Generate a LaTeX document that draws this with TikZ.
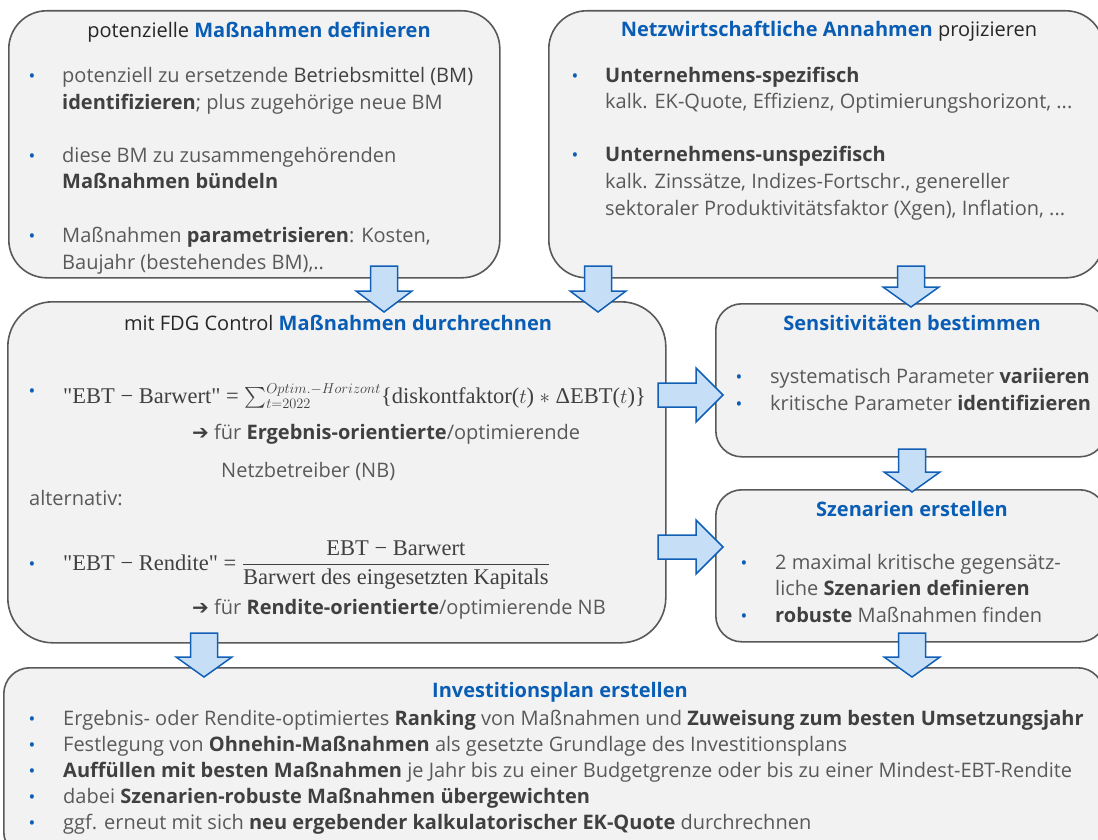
\documentclass[tikz,border=0pt]{standalone}
\usepackage[no-math]{fontspec}
\usepackage{amsmath}
\setmainfont{Open Sans}
\newfontfamily\serif{Liberation Serif}
\newfontfamily\symf{DejaVu Sans}
\definecolor{boxfill}{HTML}{F2F2F2}
\definecolor{boxline}{HTML}{595959}
\definecolor{titleblue}{HTML}{0A5DB4}
\definecolor{titledark}{HTML}{262626}
\definecolor{txtc}{HTML}{595959}
\definecolor{txtb}{HTML}{404040}
\definecolor{arrowfill}{HTML}{C6DFF6}
\definecolor{arrowline}{HTML}{1160B5}
\newcommand\hb[1]{{\color{txtb}\bfseries #1}}
\newcommand\tb[1]{{\color{titleblue}\bfseries #1}}
\newcommand\darrow[4]{\draw[barrow] (#1-13.5,#2) -- (#1+13.5,#2) -- (#1+13.5,#3) -- (#1+28,#3) -- (#1,#4) -- (#1-28,#3) -- (#1-13.5,#3) -- cycle;}
\newcommand\rarrow[4]{\draw[barrow] (#2,#1-12) -- (#3,#1-12) -- (#3,#1-27) -- (#4,#1) -- (#3,#1+27) -- (#3,#1+12) -- (#2,#1+12) -- cycle;}
\tikzset{
  box/.style={draw=boxline, line width=1.6pt, fill=boxfill, rounded corners=#1, anchor=north west, inner sep=0pt},
  box/.default=30pt,
  txt/.style={anchor=base west, inner sep=0pt, font=\fontsize{20}{24}\selectfont, text=txtc},
  ttl/.style={anchor=base, inner sep=0pt, font=\fontsize{20}{24}\selectfont, text=titledark},
  bul/.style={anchor=base, inner sep=0pt, font=\fontsize{18}{22}\selectfont, text=titleblue},
  frm/.style={anchor=base west, inner sep=0pt, font=\fontsize{22.5}{26}\selectfont\serif, text=txtb},
  barrow/.style={draw=arrowline, fill=arrowfill, line width=1.5pt, line join=miter},
}
\begin{document}
\begin{tikzpicture}[x=1pt,y=-1pt]
\useasboundingbox (0,0) rectangle (1098,840);
% boxes
\node[box=38pt, minimum width=491pt, minimum height=267pt] (b1) at (8,10) {};
\node[box=38pt, minimum width=555pt, minimum height=267pt] (b2) at (548,10) {};
\node[box=45pt, minimum width=658pt, minimum height=341pt] (b3) at (7,301) {};
\node[box=26pt, minimum width=390pt, minimum height=153pt] (b4) at (715,303) {};
\node[box=26pt, minimum width=390pt, minimum height=152pt] (b5) at (715,489) {};
\node[box=26pt, minimum width=1100pt, minimum height=190pt] (b6) at (3,667) {};

% box 1
\node[ttl] (t1) at (259,38) {potenzielle \tb{Maßnahmen definieren}};
\node[bul] (b1a) at (32,83) {•};
\node[txt] (l11) at (62,83) {potenziell zu ersetzende {\color{txtb}Betriebsmittel (BM)}};
\node[txt] (l12) at (62,110) {\hb{identifizieren}; plus zugehörige neue BM};
\node[bul] (b1b) at (32,163) {•};
\node[txt] (l13) at (62,163) {diese BM zu zusammengehörenden};
\node[txt] (l14) at (62,189) {\hb{Maßnahmen bündeln}};
\node[bul] (b1c) at (32,242) {•};
\node[txt] (l15) at (62,242) {Maßnahmen \hb{parametrisieren}: Kosten,};
\node[txt] (l16) at (62,269) {Baujahr (bestehendes BM),..};

% box 2
\node[ttl] (t2) at (829,37) {\tb{Netzwirtschaftliche Annahmen} projizieren};
\node[bul] (b2a) at (575,83) {•};
\node[txt] (l21) at (605,83) {\hb{Unternehmens-spezifisch}};
\node[txt] (l22) at (605,109) {kalk. EK-Quote, Effizienz, Optimierungshorizont, ...};
\node[bul] (b2b) at (575,162) {•};
\node[txt] (l23) at (605,162) {\hb{Unternehmens-unspezifisch}};
\node[txt] (l24) at (605,189) {kalk. Zinssätze, Indizes-Fortschr., genereller};
\node[txt] (l25) at (605,215) {sektoraler Produktivitätsfaktor (Xgen), Inflation, ...};

% box 3
\node[ttl] (t3) at (338,330) {mit FDG Control \tb{Maßnahmen durchrechnen}};
\node[bul] (b3a) at (32,397) {•};
\node[frm] (f1) at (63,403) {"EBT − Barwert" = $\sum_{t=2022}^{Optim.{-}Horizont}$\{diskontfaktor($t$) $*$ ΔEBT($t$)\}};
\node[txt] (l31) at (192,439) {{\symf\color{txtb}➔} für \hb{Ergebnis-orientierte}/optimierende};
\node[txt] (l32) at (221,477) {Netzbetreiber (NB)};
\node[txt] (l33) at (29,505) {alternativ:};
\node[bul] (b3b) at (32,570) {•};
\node[frm] (f2) at (63,570) {"EBT − Rendite" = $\dfrac{\text{EBT − Barwert}}{\text{Barwert des eingesetzten Kapitals}}$};
\node[txt] (l34) at (192,614) {{\symf\color{txtb}➔} für \hb{Rendite-orientierte}/optimierende NB};

% box 4
\node[ttl] (t4) at (912,330) {\tb{Sensitivitäten bestimmen}};
\node[bul] (b4a) at (739,383) {•};
\node[txt] (l41) at (770,383) {systematisch Parameter \hb{variieren}};
\node[bul] (b4b) at (739,410) {•};
\node[txt] (l42) at (770,410) {kritische Parameter \hb{identifizieren}};

% box 5
\node[ttl] (t5) at (912,516) {\tb{Szenarien erstellen}};
\node[bul] (b5a) at (744,569) {•};
\node[txt] (l51) at (775,569) {2 maximal kritische gegensätz-};
\node[txt] (l52) at (775,595) {liche \hb{Szenarien definieren}};
\node[bul] (b5b) at (744,622) {•};
\node[txt] (l53) at (775,622) {\hb{robuste} Maßnahmen finden};

% box 6
\node[ttl] (t6) at (560,697) {\tb{Investitionsplan erstellen}};
\node[bul] (b6a) at (32,725) {•};
\node[txt] (l61) at (63,725) {Ergebnis- oder Rendite-optimiertes \hb{Ranking} von Maßnahmen und \hb{Zuweisung zum besten Umsetzungsjahr}};
\node[bul] (b6b) at (32,751) {•};
\node[txt] (l62) at (63,751) {Festlegung von \hb{Ohnehin-Maßnahmen} als gesetzte Grundlage des Investitionsplans};
\node[bul] (b6c) at (32,777) {•};
\node[txt] (l63) at (63,777) {\hb{Auffüllen mit besten Maßnahmen} je Jahr bis zu einer Budgetgrenze oder bis zu einer Mindest-EBT-Rendite};
\node[bul] (b6d) at (32,803) {•};
\node[txt] (l64) at (63,803) {dabei \hb{Szenarien-robuste Maßnahmen übergewichten}};
\node[bul] (b6e) at (32,829) {•};
\node[txt] (l65) at (63,829) {ggf. erneut mit sich \hb{neu ergebender kalkulatorischer EK-Quote} durchrechnen};

% arrows
\darrow{384}{266}{291}{312}
\darrow{598}{266}{291}{312}
\darrow{911}{266}{287}{307}
\darrow{912}{449}{472}{492}
\darrow{912}{633}{657}{677}
\darrow{204}{633}{657}{677}
\rarrow{395}{658}{696}{723}
\rarrow{547}{658}{696}{723}
\end{tikzpicture}
\end{document}
